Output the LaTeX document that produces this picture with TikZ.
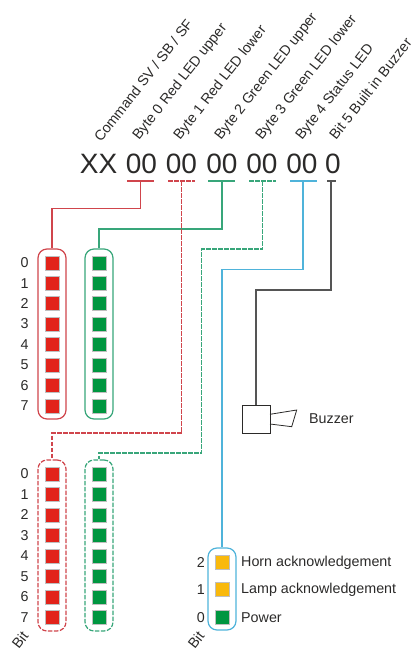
\documentclass[tikz,border=0pt]{standalone}
\usepackage{fontspec}
\setmainfont{Liberation Sans}
\usetikzlibrary{arrows.meta,calc,positioning}
\definecolor{ink}{HTML}{2B2A29}
\definecolor{linegrey}{HTML}{555555}
\definecolor{ledred}{HTML}{E2231A}
\definecolor{ledgreen}{HTML}{009640}
\definecolor{ledyellow}{HTML}{F9B90C}
\definecolor{linered}{HTML}{D0454C}
\definecolor{linegreen}{HTML}{38A67A}
\definecolor{lineblue}{HTML}{4FB3DA}
\tikzset{x=1pt,y=-1pt,
  every node/.style={font=\fontsize{14.3}{16}\selectfont,text=ink,inner sep=0pt},
  bytelabel/.style={rotate=52,anchor=base west},
  bigtext/.style={font=\fontsize{28}{30}\selectfont,anchor=base},
  bitnum/.style={anchor=center},
  pill/.style={draw,rounded corners=9pt,minimum width=28pt,line width=1.25pt},
  led/.style={minimum size=14pt,draw=black!25,line width=.3pt},
  wire/.style={line width=1.25pt},
  wiredash/.style={line width=1.25pt,dash pattern=on 4.5pt off 1.5pt}}
\begin{document}
\begin{tikzpicture}
\useasboundingbox (0,0) rectangle (420,661);
% rotated labels
\foreach \name/\x/\y/\txt in {cmd/101/143/{Command SV / SB / SF},bytea/139/141/{Byte 0 Red LED upper},byteb/180/141/{Byte 1 Red LED lower},bytec/221/141/{Byte 2 Green LED upper},byted/262/141/{Byte 3 Green LED lower},bytee/302/141/{Byte 4 Status LED},bitf/336/141/{Bit 5 Built in Buzzer}}{
  \node[bytelabel] (\name) at (\x,\y) {\txt};}
% telegram
\node[bigtext] (xx) at (98.5,173) {XX};
\foreach \name/\x in {va/141.5,vb/181.5,vc/222,vd/262,ve/302}{\node[bigtext] (\name) at (\x,173) {00};}
\node[bigtext] (vf) at (333,173) {0};
% underlines
\draw[wire,linered] (127,181)--(154,181);
\draw[wiredash,linered] (168,181)--(195,181);
\draw[wire,linegreen] (208,181)--(235,181);
\draw[wiredash,linegreen] (249,181)--(276,181);
\draw[wire,lineblue] (290,181)--(317,181);
\draw[wire,linegrey] (327,181)--(336,181);
% LED columns
\node[pill,draw=linered,minimum height=170pt] (redup) at (52,334) {};
\node[pill,draw=linegreen,minimum height=170pt] (greenup) at (99,334) {};
\node[pill,draw=linered,wiredash,minimum height=171pt] (redlow) at (52,545.5) {};
\node[pill,draw=linegreen,wiredash,minimum height=171pt] (greenlow) at (99,545.5) {};
\foreach \i in {0,...,7}{
  \node[bitnum] (nu\i) at (24.5,{262.7+\i*20.45}) {\i};
  \node[led,fill=ledred] (ru\i) at (52,{262.7+\i*20.45}) {};
  \node[led,fill=ledgreen] (gu\i) at (99,{262.7+\i*20.45}) {};
  \node[bitnum] (nl\i) at (24.5,{474+\i*20.45}) {\i};
  \node[led,fill=ledred] (rl\i) at (52,{474+\i*20.45}) {};
  \node[led,fill=ledgreen] (gl\i) at (99,{474+\i*20.45}) {};
}
\node[rotate=52] (bitl) at (20,640) {Bit};
% status LED
\node[pill,draw=lineblue,minimum height=82pt] (status) at (222,589) {};
\node[led,fill=ledyellow] (horn) at (222,562) {};
\node[led,fill=ledyellow] (lamp) at (222,589.5) {};
\node[led,fill=ledgreen] (power) at (222,617) {};
\node[anchor=east] (n2) at (205,562.5) {2};
\node[anchor=east] (n1) at (205,590) {1};
\node[anchor=east] (n0) at (205,617.5) {0};
\node[anchor=west] (thorn) at (241,562.5) {Horn acknowledgement};
\node[anchor=west] (tlamp) at (241,590) {Lamp acknowledgement};
\node[anchor=west] (tpower) at (241,617.5) {Power};
\node[rotate=52] (bitr) at (196,640) {Bit};
% buzzer
\node[draw=ink,line width=.8pt,minimum size=28pt] (box) at (256,419) {};
\draw[line width=.8pt,ink] (270,414.3)--(296.7,410)--(291.7,426.7)--(270,424);
\node[anchor=west] (buzzer) at (309,419) {Buzzer};
% connectors
\draw[wire,linered] (140.5,181)|-(52,208.3)--(redup.north);
\draw[wire,linegreen] (222,181)|-(99,229)--(greenup.north);
\draw[wiredash,linered] (181.5,181)|-(52,433)--(redlow.north);
\draw[wiredash,linegreen] (262.5,181)|-(201.5,249)|-(99,453)--(greenlow.north);
\draw[wire,lineblue] (303,181)|-(222,269.3)--(status.north);
\draw[wire,linegrey] (331,181)|-(256,290)--(box.north);
\end{tikzpicture}
\end{document}
